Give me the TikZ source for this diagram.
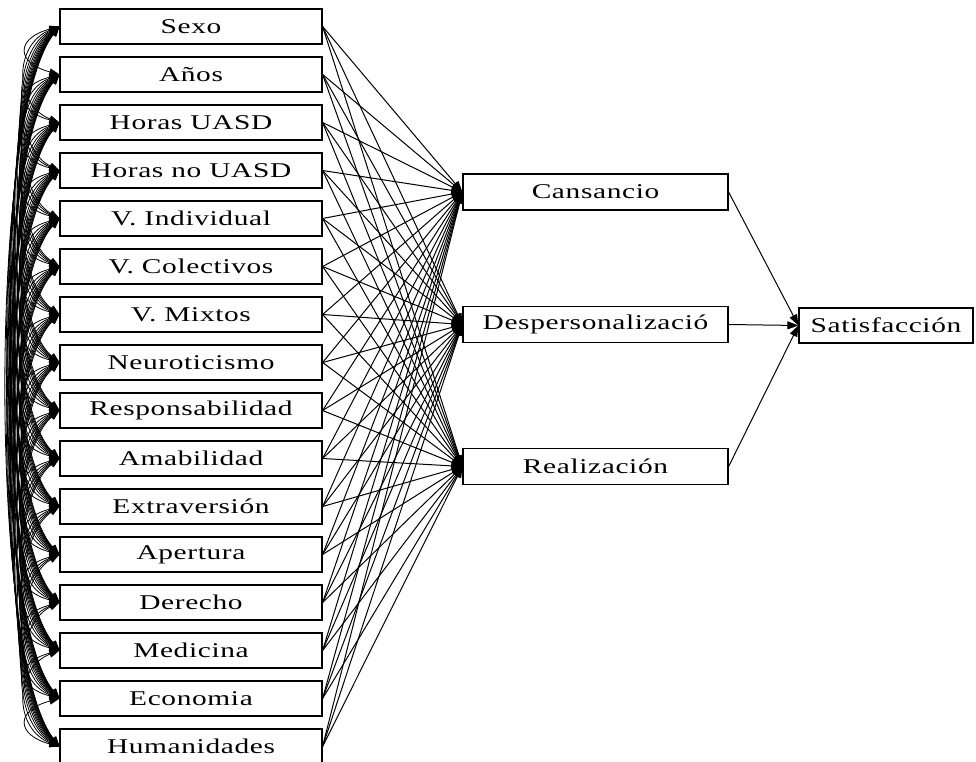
\documentclass[tikz,border=0pt]{standalone}
\usepackage{fontspec}
\setmainfont{Liberation Serif}[FakeStretch=1.4,LetterSpace=3]
\usetikzlibrary{arrows.meta,calc}
\begin{document}
\begin{tikzpicture}[x=1pt,y=-1pt,
  box/.style={draw,line width=1.2pt,inner sep=0pt,font=\fontsize{21}{25}\selectfont},
  lbox/.style={box,minimum width=262pt,minimum height=35pt},
  mbox/.style={box,minimum width=265pt,minimum height=36pt},
  reg/.style={line width=1pt,-{Triangle[length=11pt,width=8pt]}},
  cov/.style={line width=0.8pt,{Triangle[length=10pt,width=7pt]}-{Triangle[length=10pt,width=7pt]}}]
\fill[white] (0,0) rectangle (976,762);
\useasboundingbox (0,0) rectangle (976,762);
% left boxes
\foreach \t [count=\i] in {Sexo,Años,Horas UASD,Horas no UASD,V. Individual,V. Colectivos,V. Mixtos,Neuroticismo,Responsabilidad,Amabilidad,Extraversión,Apertura,Derecho,Medicina,Economia,Humanidades}{
  \node[lbox] (L\i) at (191,{26.5+48*(\i-1)}) {\t};
}
% middle boxes
\node[mbox] (C) at (595.5,192) {Cansancio};
\node[mbox] (D) at (595.5,324.5) {Despersonalizació};
\node[mbox] (R) at (595.5,466.5) {Realización};
\node[box,minimum width=174pt,minimum height=35pt] (S) at (886,325.5) {Satisfacción};
% regressions
\foreach \i in {1,...,16}{
  \foreach \k in {C,D,R}{
    \draw[reg] (L\i.east) -- (\k.west);
  }
}
\foreach \k in {C,D,R}{
  \draw[reg] (\k.east) -- (S.west);
}
% covariances
\foreach \i [evaluate=\i as \ni using int(\i+1)] in {1,...,15}{
  \foreach \j in {\ni,...,16}{
    \pgfmathsetmacro{\dd}{48*(\j-\i)}
    \pgfmathsetmacro{\off}{42+0.04*\dd}
    \pgfmathsetmacro{\vv}{0.12*\dd+6}
    \draw[cov] (L\i.west) .. controls +(-\off,\vv) and +(-\off,-\vv) .. (L\j.west);
  }
}
\end{tikzpicture}
\end{document}
